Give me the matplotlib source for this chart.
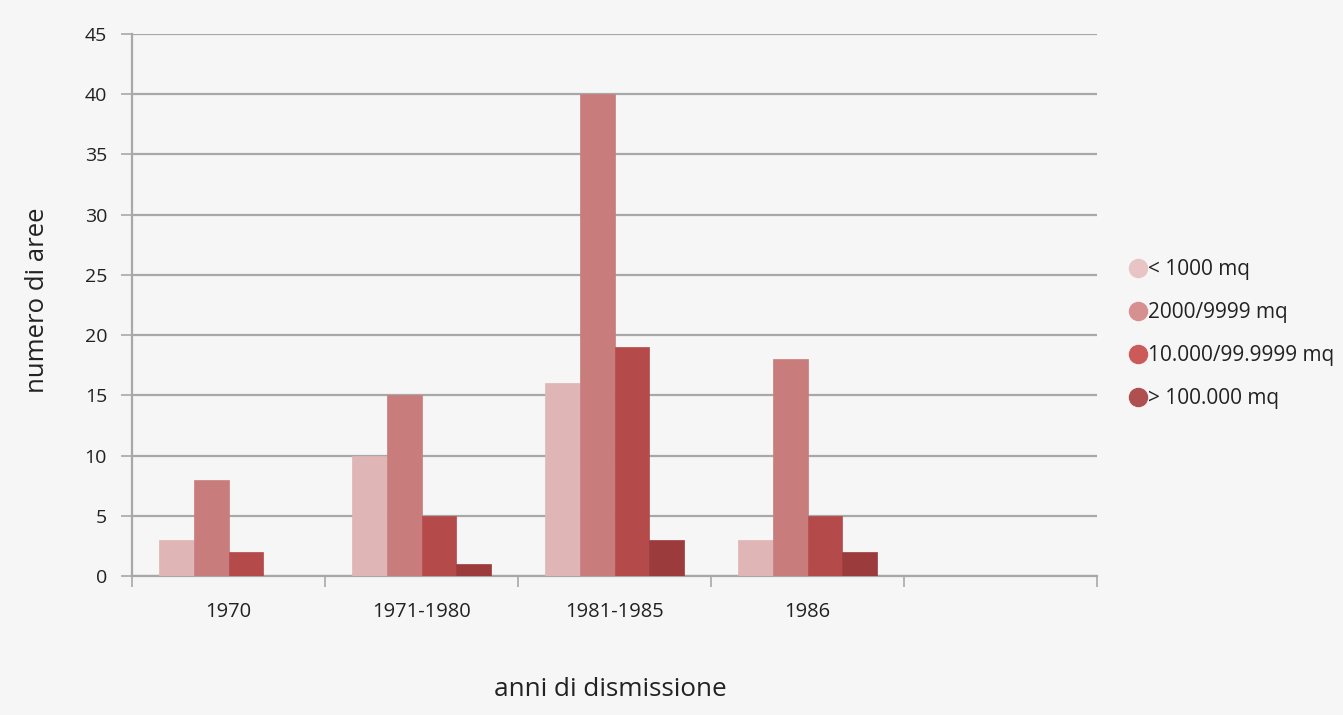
import matplotlib
matplotlib.use("Agg")
import matplotlib.pyplot as plt
import numpy as np
from matplotlib.lines import Line2D

categories = ["1970", "1971-1980", "1981-1985", "1986", ""]
series_names = ["< 1000 mq", "2000/9999 mq", "10.000/99.9999 mq", "> 100.000 mq"]
lt1000 = [3, 10, 16, 3, 0]
s2000 = [8, 15, 40, 18, 0]
s10000 = [2, 5, 19, 5, 0]
gt100000 = [0, 1, 3, 2, 0]
yticks = [0, 5, 10, 15, 20, 25, 30, 35, 40, 45]

colors = ["#dfb5b5", "#c87d7c", "#b54a4a", "#9c3b3b"]
legend_colors = ["#e8c4c4", "#d69090", "#cc5a58", "#b04f4f"]
series = [lt1000, s2000, s10000, gt100000]

plt.rcParams['font.family'] = ['Open Sans', 'DejaVu Sans']
bg = "#f6f6f6"
fig = plt.figure(figsize=(13.43, 7.15), dpi=100, facecolor=bg)
ax = fig.add_axes([132/1343, 1-576/715, (1097-132)/1343, (576-34)/715])
ax.set_facecolor(bg)

x = np.arange(len(categories))
w = 34.8/193
for i, (vals, c) in enumerate(zip(series, colors)):
    ax.bar(x + (i-1.5)*w, vals, width=w, color=c, edgecolor=c, linewidth=0.5, zorder=3)

ax.set_xlim(-0.5, len(categories)-0.5)
ax.set_ylim(0, 45)
ax.set_yticks(yticks)
ax.yaxis.grid(True, color="#a8a8a8", linewidth=1.6, zorder=0)
ax.tick_params(axis='y', length=8, color="#a8a8a8", width=1.2, labelsize=14, pad=10, labelcolor="#222222")
ax.set_xticks(x)
ax.set_xticklabels(categories, fontsize=14.5, color="#222222")
ax.tick_params(axis='x', length=0, pad=19)
ax.set_xticks(np.arange(len(categories)+1)-0.5, minor=True)
ax.tick_params(axis='x', which='minor', length=8, color="#a8a8a8", width=1.2)
for s in ["top", "right"]:
    ax.spines[s].set_visible(False)
for s in ["left", "bottom"]:
    ax.spines[s].set_color("#a8a8a8")
    ax.spines[s].set_linewidth(1.6)

fig.text(610/1343, 1-690/715, "anni di dismissione", fontsize=18.8, ha="center", va="center", color="#222222")
fig.text(38/1343, 1-300/715, "numero di aree", fontsize=18.5, ha="center", va="center", rotation=90, color="#222222")

handles = [Line2D([], [], marker='o', linestyle='', markersize=13, color=c) for c in legend_colors]
leg = fig.legend(handles, series_names, loc="center left", bbox_to_anchor=(1110/1343, 1-334/715),
                 frameon=False, fontsize=15, handletextpad=0.0, labelspacing=1.05, handlelength=0.9)
for t in leg.get_texts():
    t.set_color("#222222")

fig.savefig("out.png", dpi=100, facecolor=bg)
